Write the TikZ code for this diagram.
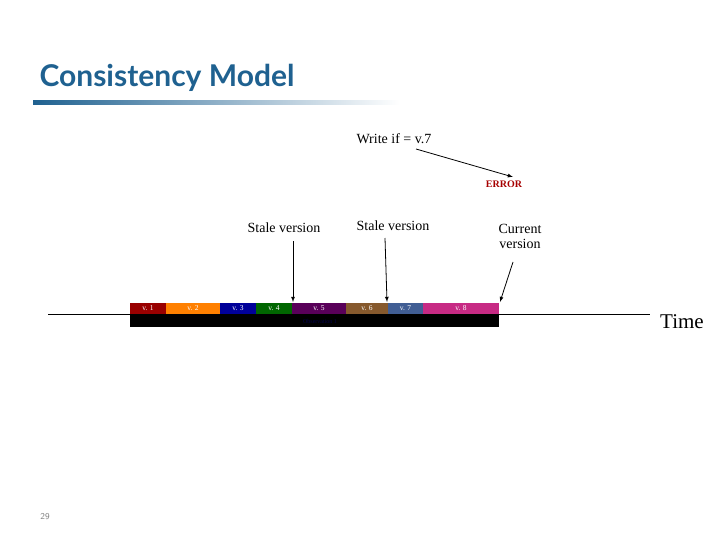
\documentclass[tikz,border=0pt]{standalone}
\usepackage{fontspec}
\setmainfont{Liberation Serif}
\newfontfamily\titlefont{Lato}
\definecolor{titleblue}{HTML}{1F6190}
\begin{document}
\begin{tikzpicture}[x=1pt,y=-1pt,
  seg/.style={draw=none,inner sep=0pt,text=white,font=\fontsize{7.5}{8}\selectfont},
  lbl/.style={font=\fontsize{14}{15}\selectfont,align=center,inner sep=1pt},
  arr/.style={-latex,thick}]
\useasboundingbox (0,0) rectangle (720,540);
\node[anchor=west,text=titleblue,font=\titlefont\bfseries\fontsize{30}{34}\selectfont] (title) at (36,78) {Consistency Model};
\shade[left color=titleblue,right color=white] (33,101) rectangle (400,105);
\draw[thin] (48,314) -- (650,314);
\fill[black] (130,314) rectangle (499,327);
\node[font=\fontsize{6}{7}\selectfont,text=blue!30!black] (obs) at (320,321) {Observation 1};
\foreach \a/\b/\c/\t/\n in {130/166/red!60!black/v. 1/s1,166/220/orange/v. 2/s2,220/256/blue!60!black/v. 3/s3,256/292/green!40!black/v. 4/s4,292/346/violet!70!black/v. 5/s5,346/388/brown!70!black/v. 6/s6,388/423/cyan!40!blue!70!black/v. 7/s7,423/499/magenta!80!black/v. 8/s8}{
  \fill[\c] (\a,303) rectangle (\b,314);
  \node[seg] (\n) at ({(\a+\b)/2},308.5) {\t};
}
\node[lbl] (st1) at (284,228) {Stale version};
\node[lbl] (st2) at (393,226) {Stale version};
\node[lbl] (cur) at (520,236) {Current\\version};
\node[lbl] (write) at (394,139) {Write if = v.7};
\node[lbl,text=red!65!black,font=\bfseries\fontsize{10}{11}\selectfont] (err) at (504,184) {ERROR};
\coordinate (p1) at (293,302);
\coordinate (p2) at (387,302);
\coordinate (p3) at (500,302);
\coordinate (pe) at (513,177);
\coordinate (w1) at (416,149);
\coordinate (c1) at (513,262);
\draw[arr] (293,241) -- (p1);
\draw[arr] (385,238) -- (p2);
\draw[arr] (c1) -- (p3);
\draw[arr] (w1) -- (pe);
\node[font=\fontsize{21}{24}\selectfont] (time) at (682,322) {Time};
\node[text=gray,font=\sffamily\fontsize{9}{10}\selectfont] (pg) at (45,517) {29};
\end{tikzpicture}
\end{document}
